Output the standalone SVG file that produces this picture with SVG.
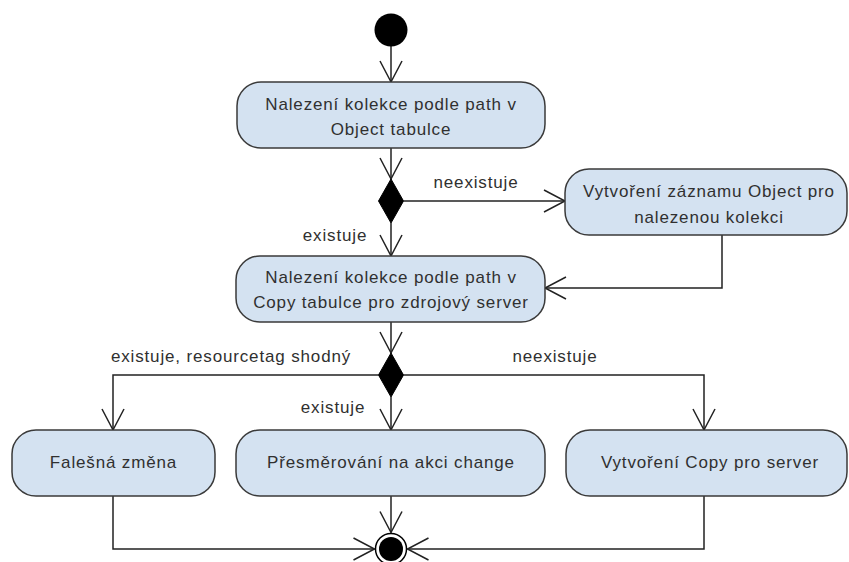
<svg xmlns="http://www.w3.org/2000/svg" width="849" height="562" viewBox="0 0 849 562">
  <style>
    .act { fill: #d4e2f1; stroke: #3a3a3a; stroke-width: 1.5; }
    .txt { font-family: "Liberation Sans", Arial, sans-serif; font-size: 17px; fill: #303030; letter-spacing: 0.85px; text-anchor: middle; }
    .edge { fill: none; stroke: #222222; stroke-width: 1.5; }
    .dec { fill: #000000; stroke: #000000; stroke-width: 1; }
  </style>
  <defs>
    <marker id="open" viewBox="0 0 22 24" refX="21" refY="12" markerWidth="22" markerHeight="24" markerUnits="userSpaceOnUse" orient="auto" overflow="visible">
      <path d="M0,1 L21,12 L0,23" fill="none" stroke="#222222" stroke-width="1.5"/>
    </marker>
  </defs>

  <rect width="849" height="562" fill="#ffffff"/>

  <!-- connectors -->
  <g id="connectors">
    <path class="edge" d="M391,46 V82" marker-end="url(#open)"/>
    <path class="edge" d="M391,148 V179" marker-end="url(#open)"/>
    <path class="edge" d="M403.5,201 H565" marker-end="url(#open)"/>
    <path class="edge" d="M391,223 V256" marker-end="url(#open)"/>
    <path class="edge" d="M722,235 V288 H545" marker-end="url(#open)"/>
    <path class="edge" d="M391,322 V353" marker-end="url(#open)"/>
    <path class="edge" d="M378.5,375 H113 V430" marker-end="url(#open)"/>
    <path class="edge" d="M391,397 V430" marker-end="url(#open)"/>
    <path class="edge" d="M403.5,375 H704 V430" marker-end="url(#open)"/>
    <path class="edge" d="M113,496 V549 H374.5" marker-end="url(#open)"/>
    <path class="edge" d="M391,496 V532.5" marker-end="url(#open)"/>
    <path class="edge" d="M704,496 V549 H407.5" marker-end="url(#open)"/>
    <text class="txt" x="476" y="188">neexistuje</text>
    <text class="txt" x="335" y="241">existuje</text>
    <text class="txt" x="231" y="362">existuje, resourcetag shodný</text>
    <text class="txt" x="333" y="413">existuje</text>
    <text class="txt" x="555" y="362">neexistuje</text>
  </g>

  <g id="start">
    <circle cx="391" cy="30" r="16.5" fill="#000000"/>
  </g>

  <g id="find-object">
    <rect class="act" x="237" y="82" width="308" height="66" rx="24" ry="24"/>
    <text class="txt" x="391" y="110">Nalezení kolekce podle path v</text>
    <text class="txt" x="391" y="135">Object tabulce</text>
  </g>

  <g id="decision-object">
    <polygon class="dec" points="391,179 403.5,201 391,223 378.5,201"/>
  </g>

  <g id="create-object">
    <rect class="act" x="565" y="169" width="282" height="66" rx="24" ry="24"/>
    <text class="txt" x="709" y="197">Vytvoření záznamu Object pro</text>
    <text class="txt" x="709" y="223">nalezenou kolekci</text>
  </g>

  <g id="find-copy">
    <rect class="act" x="236" y="256" width="309" height="66" rx="24" ry="24"/>
    <text class="txt" x="391" y="283">Nalezení kolekce podle path v</text>
    <text class="txt" x="391" y="308">Copy tabulce pro zdrojový server</text>
  </g>

  <g id="decision-copy">
    <polygon class="dec" points="391,353 403.5,375 391,397 378.5,375"/>
  </g>

  <g id="fake-change">
    <rect class="act" x="12" y="430" width="203" height="66" rx="24" ry="24"/>
    <text class="txt" x="113.5" y="468">Falešná změna</text>
  </g>

  <g id="redirect-change">
    <rect class="act" x="236" y="430" width="309" height="66" rx="24" ry="24"/>
    <text class="txt" x="391" y="468">Přesměrování na akci change</text>
  </g>

  <g id="create-copy">
    <rect class="act" x="566" y="430" width="281" height="66" rx="24" ry="24"/>
    <text class="txt" x="710" y="468">Vytvoření Copy pro server</text>
  </g>

  <g id="end">
    <circle cx="391" cy="549" r="15.5" fill="#ffffff" stroke="#000000" stroke-width="1.5"/>
    <circle cx="391" cy="549" r="12" fill="#000000"/>
  </g>
</svg>
